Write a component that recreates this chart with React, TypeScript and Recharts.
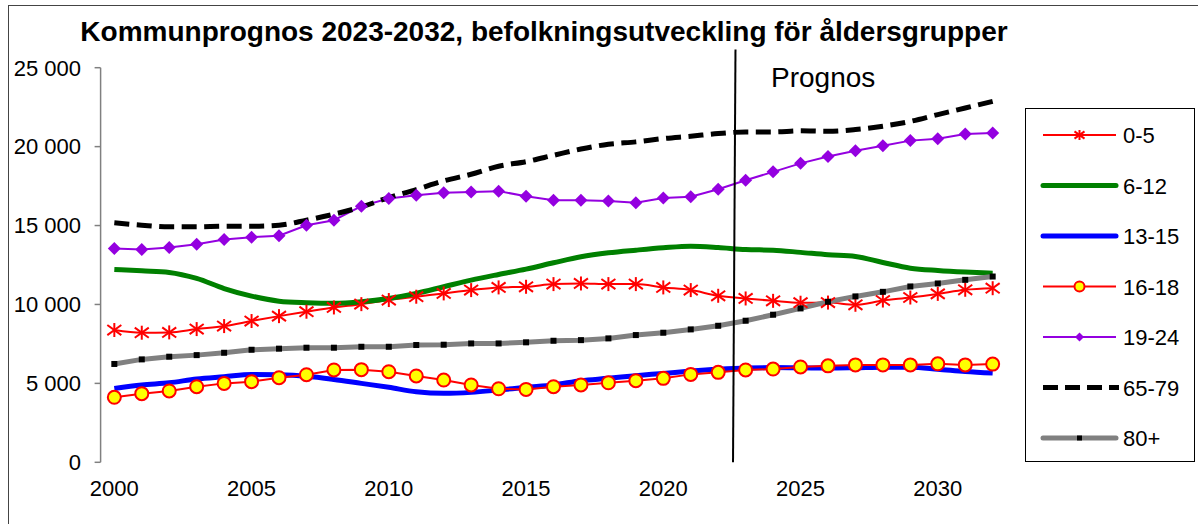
import { LineChart, Line, XAxis, YAxis, ReferenceLine } from "recharts";

// Befolkning per åldersgrupp, 2000-2032 (prognos från 2023)
const YEARS = [
  2000, 2001, 2002, 2003, 2004, 2005, 2006, 2007, 2008, 2009, 2010, 2011, 2012, 2013, 2014, 2015, 2016,
  2017, 2018, 2019, 2020, 2021, 2022, 2023, 2024, 2025, 2026, 2027, 2028, 2029, 2030, 2031, 2032,
];

const AGE_0_5 = [
  8380, 8210, 8230, 8440, 8630, 8950, 9260, 9540, 9810, 10020, 10280, 10490, 10700, 10910, 11080, 11120, 11290,
  11330, 11290, 11290, 11080, 10910, 10550, 10380, 10230, 10110, 10120, 9980, 10250, 10440, 10670, 10930, 11030,
];
const AGE_6_12 = [
  12220, 12130, 12030, 11650, 11010, 10530, 10210, 10110, 10070, 10170, 10380, 10700, 11120, 11540, 11900, 12240, 12640,
  13020, 13270, 13440, 13590, 13690, 13610, 13480, 13440, 13300, 13150, 13040, 12660, 12300, 12150, 12050, 11980,
];
const AGE_13_15 = [
  4680, 4900, 5040, 5280, 5420, 5560, 5540, 5450, 5250, 5000, 4750, 4470, 4370, 4430, 4580, 4750, 4900,
  5170, 5320, 5490, 5630, 5780, 5900, 5980, 6000, 5990, 5970, 5990, 6020, 6020, 5900, 5750, 5650,
];
const AGE_16_18 = [
  4120, 4350, 4520, 4790, 5000, 5110, 5360, 5550, 5850, 5870, 5740, 5470, 5210, 4900, 4660, 4620, 4790,
  4900, 5040, 5170, 5320, 5570, 5700, 5850, 5910, 6040, 6110, 6170, 6170, 6170, 6240, 6170, 6220,
];
const AGE_19_24 = [
  13550, 13480, 13610, 13820, 14120, 14260, 14350, 15020, 15340, 16230, 16710, 16920, 17070, 17130, 17180, 16860, 16610,
  16610, 16560, 16440, 16750, 16820, 17300, 17870, 18400, 18940, 19380, 19740, 20060, 20380, 20500, 20800, 20860,
];
const AGE_65_79 = [
  15170, 15020, 14920, 14920, 14960, 14960, 15020, 15340, 15720, 16180, 16770, 17280, 17830, 18250, 18760, 19050, 19450,
  19850, 20150, 20300, 20510, 20660, 20830, 20930, 20930, 21000, 20970, 21080, 21290, 21600, 22030, 22450, 22870,
];
const AGE_80 = [
  6230, 6520, 6690, 6790, 6940, 7130, 7200, 7260, 7260, 7320, 7320, 7430, 7450, 7530, 7530, 7600, 7700,
  7740, 7850, 8060, 8210, 8420, 8650, 8970, 9350, 9750, 10170, 10510, 10800, 11140, 11330, 11560, 11770,
];

const LABEL_TICKS = [2000, 2005, 2010, 2015, 2020, 2025, 2030];
const Y_TICKS = [0, 5000, 10000, 15000, 20000, 25000];
const PROGNOS_LINE = [
  { x: 2022.63, y: 26150 },
  { x: 2022.54, y: 0 },
];

const FONT = '"Liberation Sans", Arial, sans-serif';
const RED = "#ff0000";
const PURPLE = "#9400e0";

const rows = YEARS.map((year, i) => ({
  year,
  a0_5: AGE_0_5[i],
  a6_12: AGE_6_12[i],
  a13_15: AGE_13_15[i],
  a16_18: AGE_16_18[i],
  a19_24: AGE_19_24[i],
  a65_79: AGE_65_79[i],
  a80: AGE_80[i],
}));

// tick marks sit on the year boundaries, labels on the year centres
const boundaryTicks = [...YEARS.map((y) => y - 0.5), YEARS[YEARS.length - 1] + 0.5];

const fmt = (v: number) => (v === 0 ? "0" : `${Math.floor(v / 1000)} ${String(v % 1000).padStart(3, "0")}`);

function CrossTick(props: any) {
  const { x, y } = props;
  return <line x1={x} x2={x} y1={y - 12} y2={y} stroke="#333" strokeWidth={1} />;
}

function Asterisk({ cx, cy, size = 7, key }: any) {
  if (cx == null || cy == null) return <g key={key} />;
  const d = size * 0.72;
  return (
    <g key={key} stroke={RED} strokeWidth={2}>
      <line x1={cx} x2={cx} y1={cy - size} y2={cy + size} />
      <line x1={cx - size} x2={cx + size} y1={cy - d} y2={cy + d} />
      <line x1={cx - size} x2={cx + size} y1={cy + d} y2={cy - d} />
    </g>
  );
}

function Diamond({ cx, cy, size = 6.5, key }: any) {
  if (cx == null || cy == null) return <g key={key} />;
  return (
    <path
      key={key}
      d={`M${cx},${cy - size} L${cx + size},${cy} L${cx},${cy + size} L${cx - size},${cy} Z`}
      fill={PURPLE}
    />
  );
}

function Square({ cx, cy, size = 3, key }: any) {
  if (cx == null || cy == null) return <g key={key} />;
  return <rect key={key} x={cx - size} y={cy - size} width={size * 2} height={size * 2} fill="#000" />;
}

const LEGEND = [
  { label: "0-5", kind: "asterisk" },
  { label: "6-12", kind: "green" },
  { label: "13-15", kind: "blue" },
  { label: "16-18", kind: "circle" },
  { label: "19-24", kind: "diamond" },
  { label: "65-79", kind: "dash" },
  { label: "80+", kind: "gray" },
];

function LegendBox() {
  const x1 = 17;
  const x2 = 90;
  const mid = (x1 + x2) / 2;
  return (
    <div
      style={{
        position: "absolute",
        left: 1025,
        top: 108,
        width: 168,
        height: 352,
        border: "1px solid #000",
        background: "#fff",
      }}
    >
      <svg width={168} height={352} style={{ fontFamily: FONT }}>
        {LEGEND.map((e, i) => {
          const y = 26 + i * 50.5;
          let sample;
          if (e.kind === "asterisk") {
            sample = (
              <g>
                <line x1={x1} x2={x2} y1={y} y2={y} stroke={RED} strokeWidth={2} />
                {Asterisk({ cx: mid, cy: y, size: 5 })}
              </g>
            );
          } else if (e.kind === "green" || e.kind === "blue" || e.kind === "gray") {
            const c = e.kind === "green" ? "#008000" : e.kind === "blue" ? "#0000ff" : "#808080";
            sample = (
              <g>
                <line x1={x1} x2={x2} y1={y} y2={y} stroke={c} strokeWidth={5} strokeLinecap="round" />
                {e.kind === "gray" && Square({ cx: mid, cy: y, size: 2.5 })}
              </g>
            );
          } else if (e.kind === "circle") {
            sample = (
              <g>
                <line x1={x1} x2={x2} y1={y} y2={y} stroke={RED} strokeWidth={2} />
                <circle cx={mid} cy={y} r={5} fill="#ffff00" stroke={RED} strokeWidth={2} />
              </g>
            );
          } else if (e.kind === "diamond") {
            sample = (
              <g>
                <line x1={x1} x2={x2} y1={y} y2={y} stroke={PURPLE} strokeWidth={2} />
                {Diamond({ cx: mid, cy: y, size: 4.5 })}
              </g>
            );
          } else {
            sample = (
              <line x1={x1} x2={x2 + 3} y1={y} y2={y} stroke="#000" strokeWidth={5} strokeDasharray="15 7" />
            );
          }
          return (
            <g key={e.label}>
              {sample}
              <text x={97} y={y + 8} fontSize={22} fill="#000">
                {e.label}
              </text>
            </g>
          );
        })}
      </svg>
    </div>
  );
}

export default function App() {
  return (
    <div style={{ position: "relative", width: 1198, height: 524, fontFamily: FONT, background: "#fff" }}>
      <style>{"body{margin:0}"}</style>
      <div
        style={{
          position: "absolute",
          left: 8,
          top: 5,
          width: 1190,
          height: 519,
          borderLeft: "1px solid #444",
          borderTop: "1px solid #444",
        }}
      />
      <LineChart
        width={1198}
        height={524}
        data={rows}
        margin={{ top: 67.7, right: 191.6, bottom: 31.7, left: 40 }}
        style={{ position: "absolute", left: 0, top: 0 }}
      >
        <XAxis
          xAxisId="marks"
          dataKey="year"
          type="number"
          domain={[1999.5, 2032.5]}
          ticks={boundaryTicks}
          interval={0}
          height={0}
          tickSize={6}
          tickMargin={0}
          tickLine={false}
          tick={CrossTick}
          axisLine={{ stroke: "#000", strokeWidth: 1.2 }}
        />
        <XAxis
          xAxisId="labels"
          dataKey="year"
          type="number"
          domain={[1999.5, 2032.5]}
          ticks={LABEL_TICKS}
          interval={0}
          height={30}
          tickSize={0}
          tickMargin={18}
          tickLine={false}
          axisLine={false}
          tick={{ fontSize: 22, fill: "#000", fontFamily: FONT }}
        />
        <YAxis
          domain={[0, 25000]}
          ticks={Y_TICKS}
          interval={0}
          width={60.6}
          tickSize={6}
          tickMargin={13.6}
          tickFormatter={fmt}
          axisLine={{ stroke: "#808080", strokeWidth: 1.5 }}
          tickLine={{ stroke: "#808080", strokeWidth: 1.5 }}
          tick={{ fontSize: 22, fill: "#000", fontFamily: FONT }}
        />
        <Line
          xAxisId="marks"
          dataKey="a0_5"
          type="monotone"
          stroke={RED}
          strokeWidth={2}
          dot={(p: any) => Asterisk({ ...p, key: `a-${p.index}` })}
          isAnimationActive={false}
        />
        <Line
          xAxisId="marks"
          dataKey="a6_12"
          type="monotone"
          stroke="#008000"
          strokeWidth={5}
          dot={false}
          isAnimationActive={false}
        />
        <Line
          xAxisId="marks"
          dataKey="a13_15"
          type="monotone"
          stroke="#0000ff"
          strokeWidth={5}
          dot={false}
          isAnimationActive={false}
        />
        <Line
          xAxisId="marks"
          dataKey="a16_18"
          type="linear"
          stroke={RED}
          strokeWidth={2}
          dot={{ r: 6.5, fill: "#ffff00", stroke: RED, strokeWidth: 2 }}
          isAnimationActive={false}
        />
        <Line
          xAxisId="marks"
          dataKey="a19_24"
          type="linear"
          stroke={PURPLE}
          strokeWidth={2}
          dot={(p: any) => Diamond({ ...p, key: `d-${p.index}` })}
          isAnimationActive={false}
        />
        <Line
          xAxisId="marks"
          dataKey="a65_79"
          type="monotone"
          stroke="#000"
          strokeWidth={5}
          strokeDasharray="15 7.5"
          dot={false}
          isAnimationActive={false}
        />
        <Line
          xAxisId="marks"
          dataKey="a80"
          type="linear"
          stroke="#808080"
          strokeWidth={5}
          dot={(p: any) => Square({ ...p, key: `s-${p.index}` })}
          isAnimationActive={false}
        />
        <ReferenceLine
          xAxisId="marks"
          segment={PROGNOS_LINE}
          stroke="#000"
          strokeWidth={2}
          ifOverflow="visible"
        />
      </LineChart>
      <svg
        width={1198}
        height={524}
        style={{ position: "absolute", left: 0, top: 0, pointerEvents: "none", fontFamily: FONT }}
      >
        <text x={544} y={41} textAnchor="middle" fontSize={28} fontWeight="bold" fill="#000">
          Kommunprognos 2023-2032, befolkningsutveckling för åldersgrupper
        </text>
        <text x={771} y={87} fontSize={28} fill="#000">
          Prognos
        </text>
      </svg>
      <LegendBox />
    </div>
  );
}
